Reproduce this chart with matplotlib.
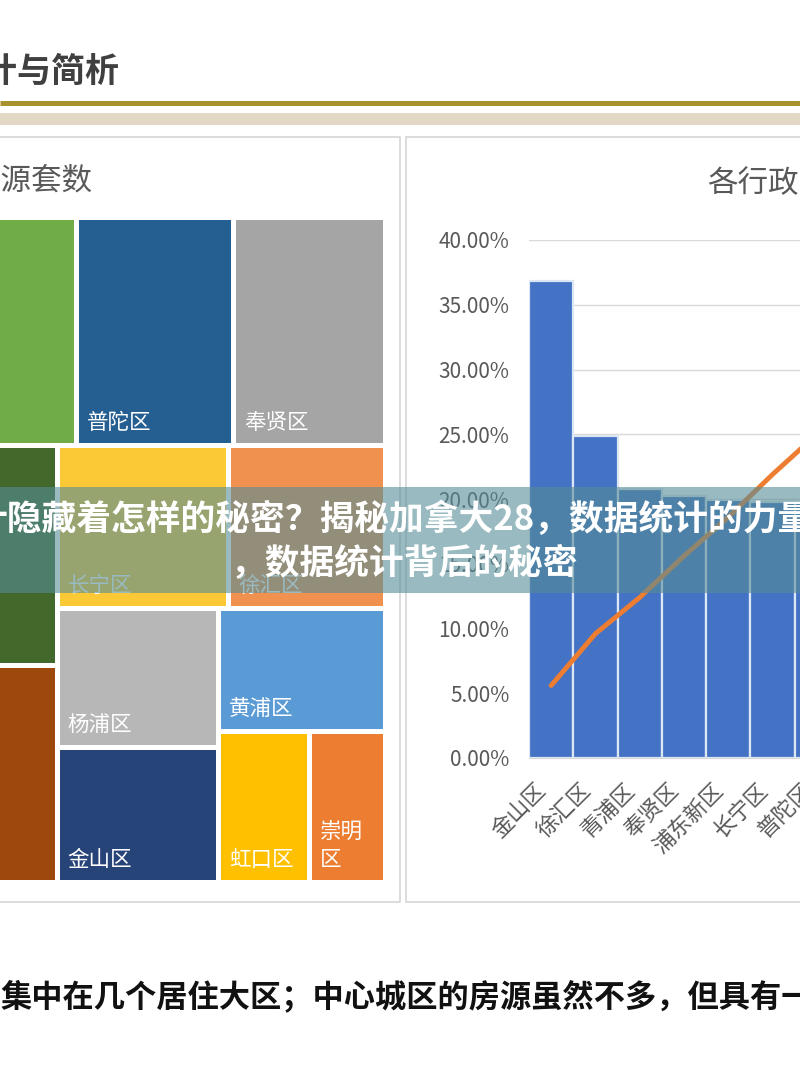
import matplotlib
matplotlib.use("Agg")
import matplotlib.pyplot as plt
from matplotlib.patches import Rectangle
from matplotlib.ticker import FuncFormatter

plt.rcParams['font.family'] = ['Noto Sans CJK SC', 'DejaVu Sans']

# ---------------- data ----------------
# treemap: 各区房源套数
tm_names = ["浦东新区", "普陀区", "奉贤区", "闵行区", "宝山区", "长宁区", "徐汇区",
            "杨浦区", "金山区", "黄浦区", "虹口区", "崇明\n区"]
tm_values = [471, 358, 347, 413, 406, 279, 256, 225, 217, 205, 138, 115]
tm_colors = ["#70AD47", "#255E91", "#A5A5A5", "#43682B", "#9E480E", "#FBC935", "#F1914F",
             "#B7B7B7", "#264478", "#5B9BD5", "#FFC000", "#ED7D31"]
# nested split structure (h = side by side, v = stacked), leaves are indices
tm_tree = ('v', [
    ('h', [0, 1, 2]),
    ('h', [('v', [3, 4]),
           ('v', [('h', [5, 6]),
                  ('h', [('v', [7, 8]), ('v', [9, ('h', [10, 11])])])])])
])

# bar chart: 各行政区占比
bar_cats = ["金山区", "徐汇区", "青浦区", "奉贤区", "浦东新区", "长宁区", "普陀区"]
bar_vals = [0.368, 0.249, 0.208, 0.202, 0.199, 0.198, 0.197]
trend_vals = [0.056, 0.096, 0.124, 0.156, 0.186, 0.219, 0.250]
y_ticks = [0.0, 0.05, 0.10, 0.15, 0.20, 0.25, 0.30, 0.35, 0.40]

title_text = "统计与简析"
left_title = "各行政区房源套数"
right_title = "各行政区房源占比"
banner_line1 = "计隐藏着怎样的秘密？揭秘加拿大28，数据统计的力量"
banner_line2 = "，数据统计背后的秘密"
bottom_text = "集中在几个居住大区；中心城区的房源虽然不多，但具有一"

# ---------------- figure ----------------
fig = plt.figure(figsize=(8, 10.8), dpi=100)
fig.patch.set_facecolor("white")

bg = fig.add_axes([0, 0, 1, 1], zorder=0)
bg.set_xlim(0, 800)
bg.set_ylim(1080, 0)
bg.axis("off")

# header
bg.text(119, 71, title_text, ha="right", va="center", fontsize=24.5, fontweight="bold",
        color="#404040")
bg.plot([0, 800], [103, 103], color="#A8912F", lw=3.6, solid_capstyle="butt")
bg.add_patch(Rectangle((0, 113), 800, 12, facecolor="#E3D8C5", edgecolor="none"))

# panels
bg.add_patch(Rectangle((-5, 137), 405, 765, facecolor="white", edgecolor="#D6D6D6", lw=1.2))
bg.add_patch(Rectangle((406, 137), 410, 765, facecolor="white", edgecolor="#D6D6D6", lw=1.2))

bg.text(92, 181, left_title, ha="right", va="center", fontsize=22, color="#595959")
bg.text(707, 183, right_title, ha="left", va="center", fontsize=22, color="#595959")

# ---------------- treemap ----------------
def node_size(n):
    if isinstance(n, int):
        return tm_values[n]
    return sum(node_size(c) for c in n[1])

def layout(n, x0, y0, x1, y1, out):
    if isinstance(n, int):
        out[n] = (x0, y0, x1, y1)
        return
    orient, kids = n
    tot = node_size(n)
    pos = x0 if orient == 'h' else y0
    for k in kids:
        frac = node_size(k) / tot
        if orient == 'h':
            w = (x1 - x0) * frac
            layout(k, pos, y0, pos + w, y1, out)
            pos += w
        else:
            h = (y1 - y0) * frac
            layout(k, x0, pos, x1, pos + h, out)
            pos += h

rects = {}
layout(tm_tree, -130, 217.5, 385.5, 882.5, rects)
gap = 2.5
for i, (x0, y0, x1, y1) in rects.items():
    bg.add_patch(Rectangle((x0 + gap, y0 + gap), x1 - x0 - 2 * gap, y1 - y0 - 2 * gap,
                           facecolor=tm_colors[i], edgecolor="none"))
    bg.text(x0 + gap + 8, y1 - gap - 9, tm_names[i], ha="left", va="bottom",
            fontsize=15.5, color="white", linespacing=1.35)

# ---------------- bar + line chart ----------------
ax = fig.add_axes([529 / 800, 1 - 758 / 1080, 310 / 800, 518 / 1080], zorder=1)
ax.set_facecolor("none")
xs = list(range(len(bar_cats)))
ax.bar(xs, bar_vals, width=1.0, color="#4472C4", edgecolor="#DCE7F5", linewidth=1.6,
       zorder=2)
ax.plot(xs, trend_vals, color="#ED7D31", lw=3.5, solid_capstyle="round", zorder=3)
ax.set_xlim(-0.5, len(bar_cats) - 0.5)
ax.set_ylim(0, 0.40)
ax.set_yticks(y_ticks)
ax.yaxis.set_major_formatter(FuncFormatter(lambda v, p: f"{v * 100:.2f}%"))
ax.grid(axis="y", color="#D9D9D9", lw=1.0, zorder=0)
ax.set_axisbelow(True)
for s in ["left", "right", "top"]:
    ax.spines[s].set_visible(False)
ax.spines["bottom"].set_color("#D9D9D9")
ax.tick_params(axis="y", length=0, pad=14, labelsize=15, labelcolor="#595959")
ax.tick_params(axis="x", length=0, pad=15, labelsize=16, labelcolor="#595959")
ax.set_xticks(xs)
ax.set_xticklabels(bar_cats, rotation=45, ha="right", va="top")

# ---------------- overlay banner ----------------
top = fig.add_axes([0, 0, 1, 1], zorder=5)
top.set_xlim(0, 800)
top.set_ylim(1080, 0)
top.axis("off")
top.add_patch(Rectangle((0, 487), 800, 106, facecolor=(85 / 255, 140 / 255, 150 / 255),
                        alpha=0.6, edgecolor="none"))
top.text(-27, 519, banner_line1, ha="left", va="center", fontsize=25,
         fontweight="bold", color="white")
top.text(230, 564, banner_line2, ha="left", va="center", fontsize=25,
         fontweight="bold", color="white")

bg.text(1, 997, bottom_text, ha="left", va="center", fontsize=22.5, fontweight="bold",
        color="#111111")

fig.savefig("out.png", dpi=100)
